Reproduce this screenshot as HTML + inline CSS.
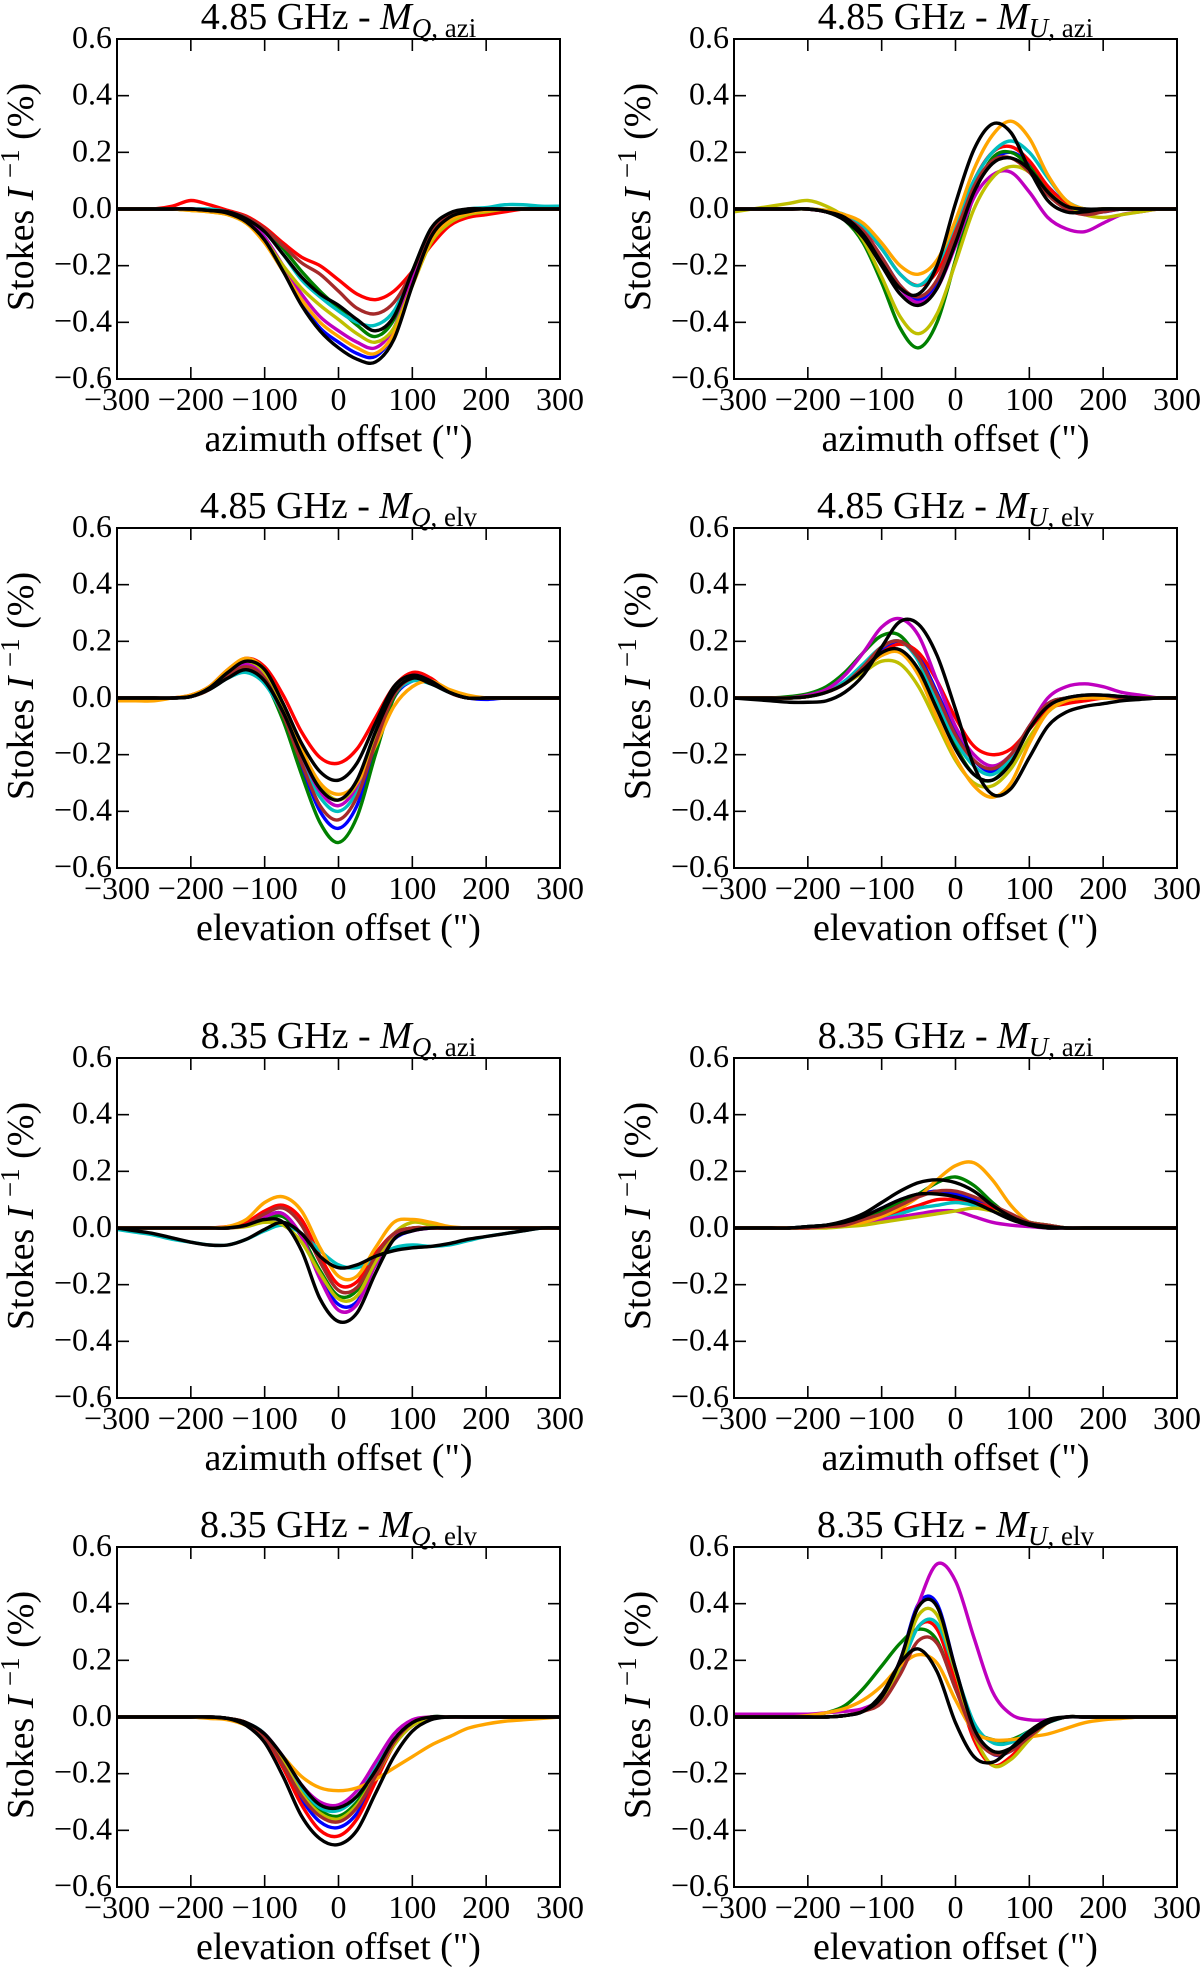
<!DOCTYPE html>
<html><head><meta charset="utf-8"><title>Stokes I^-1 beam patterns</title>
<style>
html,body{margin:0;padding:0;background:#fff;}
svg{display:block;font-family:"Liberation Serif","DejaVu Serif",serif;}
</style></head>
<body>
<svg id="fig" xmlns="http://www.w3.org/2000/svg" width="1200" height="1970" viewBox="0 0 1200 1970"></svg>
<script>
// ---- shared data ----
const xGrid = [-300,-275,-250,-225,-200,-175,-150,-125,-100,-75,-50,-25,0,25,50,75,100,125,150,175,200,225,250,275,300];
const xTicks = [-300,-200,-100,0,100,200,300];
const xTickLabels = ["\u2212300","\u2212200","\u2212100","0","100","200","300"];
const yTicks = [-0.6,-0.4,-0.2,0,0.2,0.4,0.6];
const yTickLabels = ["\u22120.6","\u22120.4","\u22120.2","0.0","0.2","0.4","0.6"];
const seriesColors = ["#0000ff","#008000","#ff0000","#00bfbf","#bf00bf","#bfbf00","#ffa500","#a52a2a","#000000","#000000"];

// ---- panel 1: 4.85 GHz M_Q,azi ----
const p1 = [
[0,0,0,0,0,-0.005,-0.015,-0.04,-0.1,-0.21,-0.33,-0.42,-0.47,-0.51,-0.52,-0.44,-0.26,-0.1,-0.03,-0.01,0,0,0,0,0],
[0,0,0,0,0,-0.005,-0.01,-0.03,-0.07,-0.14,-0.22,-0.29,-0.35,-0.41,-0.45,-0.39,-0.22,-0.08,-0.02,-0.005,0,0,0,0,0],
[0,0,0,0.01,0.03,0.015,-0.005,-0.025,-0.065,-0.12,-0.17,-0.2,-0.25,-0.3,-0.32,-0.29,-0.22,-0.13,-0.06,-0.03,-0.02,-0.01,0,0,0],
[0,0,0,0,0,0,-0.01,-0.03,-0.08,-0.16,-0.25,-0.31,-0.36,-0.4,-0.41,-0.36,-0.22,-0.08,-0.02,0,0.005,0.015,0.015,0.01,0.01],
[0,0,0,0,0,-0.005,-0.015,-0.04,-0.1,-0.2,-0.3,-0.38,-0.43,-0.47,-0.49,-0.42,-0.25,-0.09,-0.03,-0.01,0,0,0,0,0],
[0,0,0,0,-0.005,-0.01,-0.02,-0.05,-0.11,-0.2,-0.28,-0.34,-0.39,-0.44,-0.47,-0.42,-0.27,-0.12,-0.05,-0.02,-0.01,0,0,0,0],
[0,0,0,0,-0.005,-0.01,-0.02,-0.05,-0.12,-0.22,-0.32,-0.4,-0.45,-0.49,-0.51,-0.44,-0.27,-0.11,-0.04,-0.015,-0.005,0,0,0,0],
[0,0,0,0,0,-0.005,-0.01,-0.03,-0.07,-0.13,-0.19,-0.23,-0.29,-0.35,-0.37,-0.33,-0.22,-0.08,-0.02,0,0,0,0,0,0],
[0,0,0,0,0,-0.005,-0.01,-0.035,-0.08,-0.16,-0.24,-0.3,-0.34,-0.39,-0.43,-0.38,-0.22,-0.07,-0.015,0,0,0,0,0,0],
[0,0,0,0,0,-0.005,-0.015,-0.045,-0.11,-0.22,-0.34,-0.43,-0.49,-0.53,-0.54,-0.46,-0.27,-0.1,-0.03,-0.01,0,0,0,0,0]
];
// ---- panel 2: 4.85 GHz M_U,azi ----
const p2 = [
[0,0,0,0,0,-0.01,-0.03,-0.08,-0.17,-0.27,-0.32,-0.27,-0.12,0.07,0.17,0.2,0.16,0.08,0.02,-0.01,-0.01,0,0,0,0],
[0,0,0,0,0,-0.01,-0.04,-0.12,-0.26,-0.42,-0.49,-0.4,-0.18,0.05,0.18,0.2,0.15,0.07,0.02,0,0,0,0,0,0],
[0,0,0,0,0,-0.01,-0.03,-0.07,-0.14,-0.23,-0.27,-0.22,-0.07,0.1,0.2,0.22,0.17,0.08,0.02,0,0,0,0,0,0],
[0,0,0,0,0,-0.005,-0.02,-0.06,-0.14,-0.23,-0.27,-0.2,-0.05,0.1,0.2,0.24,0.2,0.11,0.03,0,0,0,0,0,0],
[0,0,0,0,0,-0.01,-0.03,-0.08,-0.17,-0.28,-0.33,-0.28,-0.13,0.04,0.12,0.13,0.06,-0.03,-0.07,-0.08,-0.05,-0.02,-0.01,0,0],
[-0.01,0,0.01,0.02,0.03,0.01,-0.03,-0.11,-0.24,-0.38,-0.44,-0.37,-0.19,0.0,0.11,0.15,0.13,0.06,0.01,-0.02,-0.03,-0.02,-0.01,0,0],
[0,0,0,0,0,-0.005,-0.02,-0.05,-0.12,-0.2,-0.23,-0.18,-0.04,0.14,0.26,0.31,0.25,0.12,0.03,0,0,0,0,0,0],
[0,0,0,0,0,-0.01,-0.03,-0.08,-0.17,-0.27,-0.31,-0.25,-0.09,0.08,0.17,0.18,0.13,0.05,0.0,-0.02,-0.01,0,0,0,0],
[0,0,0,0,0,-0.01,-0.03,-0.09,-0.19,-0.28,-0.3,-0.2,0.02,0.21,0.3,0.27,0.14,0.03,-0.01,-0.01,0,0,0,0,0],
[0,0,0,0,0,-0.01,-0.04,-0.1,-0.2,-0.3,-0.34,-0.28,-0.12,0.06,0.16,0.18,0.14,0.06,0.01,0,0,0,0,0,0]
];
// ---- panel 3: 4.85 GHz M_Q,elv ----
const p3 = [
[0,0,0,0,0.005,0.03,0.08,0.11,0.07,-0.06,-0.24,-0.4,-0.46,-0.38,-0.18,0.0,0.06,0.06,0.02,0,-0.005,0,0,0,0],
[0,0,0,0,0.005,0.03,0.08,0.11,0.06,-0.08,-0.27,-0.44,-0.51,-0.42,-0.2,0.0,0.07,0.06,0.02,0,0,0,0,0,0],
[0,0,0,0,0.01,0.04,0.1,0.14,0.11,0.01,-0.12,-0.21,-0.23,-0.18,-0.07,0.04,0.09,0.07,0.02,0,0,0,0,0,0],
[0,0,0,0,0.005,0.03,0.07,0.09,0.05,-0.06,-0.22,-0.35,-0.4,-0.33,-0.15,0.01,0.06,0.05,0.02,0,0,0,0,0,0],
[0,0,0,0,0.005,0.03,0.08,0.12,0.08,-0.04,-0.2,-0.33,-0.38,-0.31,-0.13,0.03,0.08,0.06,0.02,0,0,0,0,0,0],
[0,0,0,0,0.005,0.03,0.09,0.13,0.09,-0.03,-0.19,-0.31,-0.36,-0.3,-0.13,0.02,0.07,0.06,0.02,0,0,0,0,0,0],
[-0.01,-0.01,-0.01,0,0.01,0.04,0.1,0.14,0.1,-0.02,-0.18,-0.3,-0.34,-0.3,-0.17,-0.03,0.04,0.06,0.03,0.01,0,0,0,0,0],
[0,0,0,0,0.005,0.03,0.08,0.11,0.07,-0.06,-0.23,-0.38,-0.43,-0.35,-0.16,0.01,0.07,0.06,0.02,0,0,0,0,0,0],
[0,0,0,0,0.005,0.03,0.07,0.1,0.06,-0.05,-0.2,-0.32,-0.36,-0.29,-0.12,0.02,0.07,0.05,0.02,0,0,0,0,0,0],
[0,0,0,0,0.005,0.035,0.09,0.13,0.1,-0.02,-0.16,-0.26,-0.29,-0.23,-0.09,0.04,0.08,0.06,0.02,0,0,0,0,0,0]
];
// ---- panel 4: 4.85 GHz M_U,elv ----
const p4 = [
[0,0,0,0,0.005,0.02,0.05,0.1,0.17,0.2,0.15,0.02,-0.12,-0.22,-0.26,-0.21,-0.1,-0.02,0,0.01,0.01,0.005,0,0,0],
[0,0,0,0.005,0.015,0.04,0.09,0.16,0.22,0.22,0.13,-0.02,-0.17,-0.27,-0.29,-0.22,-0.1,-0.02,0,0.01,0.01,0.005,0,0,0],
[0,0,0,0,0.005,0.02,0.05,0.1,0.16,0.19,0.16,0.06,-0.07,-0.17,-0.2,-0.18,-0.11,-0.04,-0.02,-0.01,0,0,0,0,0],
[0,0,0,0,0.005,0.02,0.06,0.12,0.18,0.2,0.13,-0.01,-0.15,-0.24,-0.27,-0.21,-0.1,-0.02,0,0.01,0.01,0,0,0,0],
[0,0,0,0,0.01,0.03,0.08,0.16,0.25,0.28,0.22,0.06,-0.1,-0.2,-0.24,-0.2,-0.1,0,0.04,0.05,0.04,0.02,0.01,0,0],
[0,0,0,0,0.005,0.02,0.05,0.09,0.13,0.12,0.04,-0.09,-0.22,-0.3,-0.31,-0.25,-0.14,-0.05,-0.01,0,0,0,0,0,0],
[0,0,0,0,0.005,0.02,0.05,0.1,0.15,0.16,0.08,-0.07,-0.21,-0.31,-0.35,-0.3,-0.16,-0.05,-0.01,0,0,0,0,0,0],
[0,0,0,0,0.005,0.02,0.05,0.11,0.18,0.2,0.14,0.01,-0.13,-0.22,-0.25,-0.2,-0.1,-0.02,0,0.01,0.01,0,0,0,0],
[0,-0.005,-0.01,-0.015,-0.015,-0.01,0.02,0.08,0.18,0.27,0.26,0.15,-0.04,-0.24,-0.34,-0.32,-0.21,-0.1,-0.05,-0.03,-0.02,-0.01,-0.005,0,0],
[0,0,0,0,0.005,0.02,0.05,0.1,0.16,0.17,0.1,-0.04,-0.18,-0.27,-0.29,-0.23,-0.11,-0.03,0,0.01,0.01,0.005,0,0,0]
];
// ---- panel 5: 8.35 GHz M_Q,azi ----
const p5 = [
[0,0,0,0,0,0,0,0.01,0.04,0.05,-0.03,-0.17,-0.27,-0.26,-0.13,-0.04,-0.01,0,0,0,0,0,0,0,0],
[0,0,0,0,0,0,0,0.01,0.03,0.04,-0.03,-0.15,-0.24,-0.22,-0.1,-0.02,0,0,0,0,0,0,0,0,0],
[0,0,0,0,0,0,0.005,0.02,0.06,0.08,0.03,-0.1,-0.2,-0.19,-0.09,-0.02,0,0,0,0,0,0,0,0,0],
[-0.005,-0.015,-0.025,-0.04,-0.05,-0.06,-0.06,-0.04,-0.01,0.01,-0.02,-0.08,-0.13,-0.14,-0.11,-0.07,-0.06,-0.065,-0.06,-0.045,-0.03,-0.02,-0.01,0,0],
[0,0,0,0,0,0,0,0.01,0.04,0.05,-0.03,-0.18,-0.29,-0.27,-0.13,-0.03,-0.01,0,0,0,0,0,0,0,0],
[0,0,0,0,0,0,0,0.005,0.02,0.01,-0.05,-0.16,-0.25,-0.24,-0.12,-0.02,0.02,0.01,0,0,0,0,0,0,0],
[0,0,0,0,0,0,0.005,0.03,0.09,0.11,0.06,-0.07,-0.17,-0.17,-0.07,0.02,0.03,0.02,0.005,0,0,0,0,0,0],
[0,0,0,0,0,0,0,0.01,0.05,0.07,0.01,-0.12,-0.22,-0.21,-0.1,-0.02,0,0,0,0,0,0,0,0,0],
[0,0,0,0,0,0,0,0.01,0.03,0.02,-0.08,-0.25,-0.33,-0.3,-0.16,-0.04,-0.01,0,0,0,0,0,0,0,0],
[0,-0.01,-0.02,-0.035,-0.05,-0.06,-0.06,-0.04,-0.005,0.02,-0.02,-0.1,-0.14,-0.13,-0.1,-0.08,-0.07,-0.065,-0.055,-0.04,-0.03,-0.02,-0.01,0,0]
];
// ---- panel 6: 8.35 GHz M_U,azi ----
const p6 = [
[0,0,0,0,0.005,0.01,0.02,0.04,0.07,0.1,0.12,0.13,0.12,0.1,0.07,0.04,0.02,0.01,0,0,0,0,0,0,0],
[0,0,0,0,0.005,0.01,0.02,0.04,0.06,0.09,0.12,0.16,0.18,0.15,0.09,0.04,0.015,0.005,0,0,0,0,0,0,0],
[0,0,0,0,0,0.005,0.01,0.02,0.04,0.06,0.08,0.1,0.1,0.09,0.07,0.04,0.02,0.01,0,0,0,0,0,0,0],
[0,0,0,0,0,0.005,0.01,0.02,0.03,0.05,0.07,0.08,0.09,0.08,0.06,0.04,0.02,0.01,0,0,0,0,0,0,0],
[0,0,0,0,0,0.005,0.01,0.02,0.03,0.04,0.05,0.06,0.06,0.04,0.02,0.01,0.005,0,0,0,0,0,0,0,0],
[0,0,0,0,0,0,0.005,0.01,0.02,0.03,0.04,0.05,0.06,0.07,0.06,0.04,0.02,0.01,0,0,0,0,0,0,0],
[0,0,0,0,0,0.005,0.01,0.02,0.04,0.07,0.11,0.17,0.22,0.23,0.17,0.08,0.02,0.005,0,0,0,0,0,0,0],
[0,0,0,0,0,0.005,0.01,0.03,0.05,0.08,0.11,0.13,0.13,0.11,0.08,0.05,0.02,0.01,0,0,0,0,0,0,0],
[0,0,0,0,0.005,0.01,0.025,0.05,0.09,0.13,0.16,0.17,0.16,0.13,0.08,0.04,0.015,0.005,0,0,0,0,0,0,0],
[0,0,0,0,0.005,0.01,0.02,0.04,0.07,0.1,0.12,0.12,0.11,0.09,0.06,0.03,0.01,0,0,0,0,0,0,0,0]
];
// ---- panel 7: 8.35 GHz M_Q,elv ----
const p7 = [
[0,0,0,0,0,0,-0.005,-0.02,-0.07,-0.17,-0.29,-0.37,-0.39,-0.34,-0.22,-0.1,-0.03,-0.005,0,0,0,0,0,0,0],
[0,0,0,0,0,0,-0.005,-0.02,-0.06,-0.15,-0.26,-0.33,-0.35,-0.3,-0.2,-0.09,-0.03,0,0,0,0,0,0,0,0],
[0,0,0,0,0,0,-0.005,-0.02,-0.07,-0.18,-0.31,-0.4,-0.42,-0.36,-0.23,-0.1,-0.03,-0.005,0,0,0,0,0,0,0],
[0,0,0,0,0,0,-0.005,-0.02,-0.06,-0.15,-0.25,-0.32,-0.33,-0.28,-0.18,-0.08,-0.02,0,0,0,0,0,0,0,0],
[0,0,0,0,0,0,-0.005,-0.02,-0.06,-0.14,-0.24,-0.3,-0.31,-0.26,-0.16,-0.06,-0.01,0,0,0,0,0,0,0,0],
[0,0,0,0,0,0,-0.005,-0.02,-0.07,-0.16,-0.27,-0.34,-0.36,-0.31,-0.21,-0.1,-0.03,-0.005,0,0,0,0,0,0,0],
[0,0,0,0,0,-0.005,-0.01,-0.03,-0.07,-0.14,-0.21,-0.25,-0.26,-0.25,-0.22,-0.18,-0.14,-0.1,-0.07,-0.04,-0.025,-0.015,-0.01,-0.005,0],
[0,0,0,0,0,0,-0.005,-0.02,-0.07,-0.17,-0.28,-0.35,-0.37,-0.32,-0.21,-0.09,-0.02,0,0,0,0,0,0,0,0],
[0,0,0,0,0,0,-0.005,-0.03,-0.09,-0.21,-0.35,-0.43,-0.45,-0.4,-0.27,-0.14,-0.05,-0.01,0,0,0,0,0,0,0],
[0,0,0,0,0,0,-0.005,-0.02,-0.06,-0.14,-0.24,-0.31,-0.32,-0.28,-0.19,-0.08,-0.02,0,0,0,0,0,0,0,0]
];
// ---- panel 8: 8.35 GHz M_U,elv ----
const p8 = [
[0,0,0,0,0,0,0.005,0.02,0.07,0.2,0.4,0.4,0.17,-0.04,-0.13,-0.12,-0.06,-0.02,0,0,0,0,0,0,0],
[0,0,0,0,0.005,0.015,0.04,0.1,0.18,0.26,0.31,0.27,0.1,-0.04,-0.08,-0.08,-0.05,-0.02,0,0,0,0,0,0,0],
[0,0,0,0,0,0,0.005,0.02,0.06,0.17,0.32,0.31,0.12,-0.08,-0.17,-0.14,-0.07,-0.02,0,0,0,0,0,0,0],
[0,0,0,0,0,0,0.005,0.02,0.06,0.17,0.32,0.33,0.16,-0.02,-0.09,-0.09,-0.05,-0.02,0,0,0,0,0,0,0],
[0.01,0.01,0.01,0.01,0.01,0.015,0.02,0.03,0.07,0.2,0.4,0.54,0.48,0.28,0.09,0.01,-0.01,-0.01,0,0,0,0,0,0,0],
[0,0,0,0,0,0,0.005,0.02,0.06,0.18,0.36,0.36,0.16,-0.06,-0.17,-0.15,-0.08,-0.02,0,0,0,0,0,0,0],
[0,0,0,0,0.005,0.015,0.03,0.06,0.11,0.18,0.22,0.19,0.06,-0.05,-0.08,-0.08,-0.07,-0.06,-0.04,-0.02,-0.01,-0.005,0,0,0],
[0,0,0,0,0,0,0.005,0.02,0.05,0.15,0.27,0.26,0.1,-0.06,-0.13,-0.12,-0.07,-0.02,0,0,0,0,0,0,0],
[0,0,0,0,0,0,0.005,0.02,0.07,0.2,0.39,0.39,0.17,-0.04,-0.12,-0.11,-0.06,-0.02,0,0,0,0,0,0,0],
[0,0,0,0,0,0,0.005,0.02,0.08,0.19,0.24,0.16,-0.02,-0.14,-0.16,-0.11,-0.05,-0.01,0,0,0,0,0,0,0]
];

const panelFreqs = ["4.85","4.85","4.85","4.85","8.35","8.35","8.35","8.35"];
const panelStokes = ["Q","U","Q","U","Q","U","Q","U"];
const panelDirs = ["azi","azi","elv","elv","azi","azi","elv","elv"];
const panelData = [p1,p2,p3,p4,p5,p6,p7,p8];

// ---- layout ----
const NS = "http://www.w3.org/2000/svg";
const svg = document.getElementById("fig");
const colLeft = [117, 734];
const axW = 443;
const rowTop = [39, 528, 1058, 1547];
const axH = 340;

function mk(tag, attrs, parent){
  const e = document.createElementNS(NS, tag);
  for (const k in attrs) e.setAttribute(k, attrs[k]);
  (parent||svg).appendChild(e);
  return e;
}
function smoothPath(pts){
  let d = "M" + pts[0][0].toFixed(2) + "," + pts[0][1].toFixed(2);
  for (let i=0;i<pts.length-1;i++){
    const p0 = pts[Math.max(0,i-1)], p1 = pts[i], p2 = pts[i+1], p3 = pts[Math.min(pts.length-1,i+2)];
    const c1x = p1[0] + (p2[0]-p0[0])/6, c1y = p1[1] + (p2[1]-p0[1])/6;
    const c2x = p2[0] - (p3[0]-p1[0])/6, c2y = p2[1] - (p3[1]-p1[1])/6;
    d += " C" + c1x.toFixed(2)+","+c1y.toFixed(2)+" "+c2x.toFixed(2)+","+c2y.toFixed(2)+" "+p2[0].toFixed(2)+","+p2[1].toFixed(2);
  }
  return d;
}

panelData.forEach((series, idx) => {
  const col = idx % 2, row = Math.floor(idx/2);
  const L = colLeft[col], T = rowTop[row], R = L + axW, B = T + axH;
  const xs = v => L + (v + 300) / 600 * axW;
  const ys = v => B - (v + 0.6) / 1.2 * axH;

  const g = mk("g", {});
  
  

  const clipId = "clip" + idx;
  const cp = mk("clipPath", {id: clipId}, g);
  mk("rect", {x:L, y:T, width:axW, height:axH}, cp);

  const sg = mk("g", {"clip-path":"url(#"+clipId+")"}, g);
  
  
  series.forEach((vals, si) => {
    const pts = vals.map((v, i) => [xs(xGrid[i]), ys(v)]);
    const p = mk("path", {d: smoothPath(pts), fill:"none", stroke: seriesColors[si % seriesColors.length], "stroke-width": 3.4, "stroke-linejoin":"round"}, sg);
    
    
  });

  xTicks.forEach((t, i) => {
    const x = xs(t);
    mk("line", {x1:x, y1:B, x2:x, y2:B-12, stroke:"#000", "stroke-width":1.6}, g);
    mk("line", {x1:x, y1:T, x2:x, y2:T+12, stroke:"#000", "stroke-width":1.6}, g);
    const tl = mk("text", {x:x, y:B+31, "font-size":32, "text-anchor":"middle", fill:"#000"}, g);
    tl.textContent = xTickLabels[i];
    
    
  });
  yTicks.forEach((t, i) => {
    const y = ys(t);
    mk("line", {x1:L, y1:y, x2:L+12, y2:y, stroke:"#000", "stroke-width":1.6}, g);
    mk("line", {x1:R, y1:y, x2:R-12, y2:y, stroke:"#000", "stroke-width":1.6}, g);
    const tl = mk("text", {x:L-5, y:y+9, "font-size":32, "text-anchor":"end", fill:"#000"}, g);
    tl.textContent = yTickLabels[i];
    
    
  });

  const fr = mk("rect", {x:L, y:T, width:axW, height:axH, fill:"none", stroke:"#000", "stroke-width":2}, g);
  
  

  const ti = mk("text", {x:L+axW/2, y:T-10, "font-size":38, "text-anchor":"middle", fill:"#000"}, g);
  
  
  const t1 = mk("tspan", {}, ti); t1.textContent = panelFreqs[idx] + " GHz - ";
  const t2 = mk("tspan", {"font-style":"italic"}, ti); t2.textContent = "M";
  const t3 = mk("tspan", {"font-style":"italic", "font-size":27, dy:8}, ti); t3.textContent = panelStokes[idx];
  const t4 = mk("tspan", {"font-size":27}, ti); t4.textContent = ", " + panelDirs[idx];

  const xl = mk("text", {x:L+axW/2, y:B+72, "font-size":38, "text-anchor":"middle", fill:"#000"}, g);
  xl.textContent = (panelDirs[idx] === "azi" ? "azimuth" : "elevation") + " offset (\")";
  
  

  const cx = L - 84, cy = T + axH/2 - 12;
  const yl = mk("text", {x:0, y:0, "font-size":38, "text-anchor":"middle", fill:"#000", transform:"translate("+cx+","+cy+") rotate(-90)"}, g);
  
  
  const y1 = mk("tspan", {}, yl); y1.textContent = "Stokes ";
  const y2 = mk("tspan", {"font-style":"italic"}, yl); y2.textContent = "I ";
  const y3 = mk("tspan", {"font-size":27, dy:-14}, yl); y3.textContent = "\u22121";
  const y4 = mk("tspan", {dy:14}, yl); y4.textContent = " (%)";
});
</script>
</body></html>
